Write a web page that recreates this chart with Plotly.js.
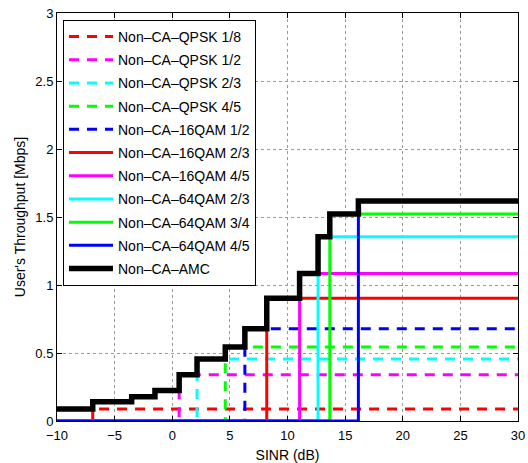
<!DOCTYPE html>
<html>
<head>
<meta charset="utf-8">
<script src="https://cdn.plot.ly/plotly-3.0.1.min.js"></script>
<style>html,body{margin:0;padding:0;background:#fff;}#chart{width:528px;height:463px;}</style>
</head>
<body>
<div id="chart"></div>
<script>
// Series names, thresholds (dB) and throughput (Mbps)
const seriesNames = ["Non–CA–QPSK 1/8","Non–CA–QPSK 1/2","Non–CA–QPSK 2/3","Non–CA–QPSK 4/5","Non–CA–16QAM 1/2","Non–CA–16QAM 2/3","Non–CA–16QAM 4/5","Non–CA–64QAM 2/3","Non–CA–64QAM 3/4","Non–CA–64QAM 4/5"];
const thresholds = [-6.9, 0.6, 2.15, 4.6, 6.3, 8.2, 11.05, 12.65, 13.67, 16.15];
const throughput = [0.088, 0.34, 0.456, 0.545, 0.678, 0.903, 1.085, 1.355, 1.522, 1.618];
const seriesColors = ["#ff0000","#ff00ff","#00ffff","#00ff00","#0000ff","#ff0000","#ff00ff","#00ffff","#00ff00","#0000ff"];
const seriesDashed = [true,true,true,true,true,false,false,false,false,false];

const amcName = "Non–CA–AMC";
const amcX = [-10, -6.9, -3.52, -1.5, 0.6, 2.15, 4.6, 6.3, 8.2, 11.05, 12.65, 13.67, 16.15, 30];
const amcY = [0.088, 0.142, 0.178, 0.225, 0.34, 0.456, 0.545, 0.678, 0.903, 1.085, 1.355, 1.522, 1.618, 1.618];

const xMin = -10, xMax = 30;
const xTicks = [-10,-5,0,5,10,15,20,25,30];
const yTicks = [0,0.5,1,1.5,2,2.5,3];

const traces = seriesNames.map((name, i) => ({
  type: "scatter", mode: "lines", name: name, legendgroup: "g" + i,
  x: [xMin, thresholds[i], xMax],
  y: [0, throughput[i], throughput[i]],
  line: {shape: "hv", color: seriesColors[i], width: 3, dash: seriesDashed[i] ? "10px,8px" : "solid"}
}));
traces.push({
  type: "scatter", mode: "lines", name: amcName, legendgroup: "gamc",
  x: amcX, y: amcY,
  line: {shape: "hv", color: "#000000", width: 5.5}
});

const fontFam = "Liberation Sans, Arial, Helvetica, sans-serif";
const layout = {
  width: 528, height: 463,
  margin: {l: 57, r: 10, t: 13, b: 42, pad: 0},
  paper_bgcolor: "#ffffff", plot_bgcolor: "#ffffff",
  font: {family: fontFam, size: 13, color: "#000"},
  showlegend: true,
  legend: {
    x: 0.013, y: 0.983, xanchor: "left", yanchor: "top",
    bgcolor: "#ffffff", bordercolor: "#000000", borderwidth: 1,
    font: {family: fontFam, size: 14, color: "#000"},
    itemwidth: 44, traceorder: "grouped", tracegroupgap: 2
  },
  xaxis: {
    range: [xMin, xMax], tickvals: xTicks, ticktext: xTicks.map(v => v < 0 ? "−" + Math.abs(v) : String(v)),
    showline: true, linecolor: "#000", linewidth: 1, mirror: "allticks",
    ticks: "inside", ticklen: 5, tickcolor: "#000",
    showgrid: true, gridcolor: "#9a9a9a", griddash: "dot", gridwidth: 1,
    zeroline: false, automargin: false, ticklabelstandoff: 2,
    tickfont: {family: fontFam, size: 13, color: "#000"},
    title: {text: "SINR (dB)", font: {family: fontFam, size: 14, color: "#000"}, standoff: 10}
  },
  yaxis: {
    range: [0, 3], tickvals: yTicks, ticktext: yTicks.map(v => String(v)),
    showline: true, linecolor: "#000", linewidth: 1, mirror: "allticks",
    ticks: "inside", ticklen: 5, tickcolor: "#000",
    showgrid: true, gridcolor: "#9a9a9a", griddash: "dot", gridwidth: 1,
    zeroline: false, automargin: false,
    tickfont: {family: fontFam, size: 13, color: "#000"},
    title: {text: "User's Throughput [Mbps]", font: {family: fontFam, size: 14, color: "#000"}, standoff: 6}
  }
};

Plotly.newPlot("chart", traces, layout, {staticPlot: true, displayModeBar: false});
</script>
</body>
</html>
